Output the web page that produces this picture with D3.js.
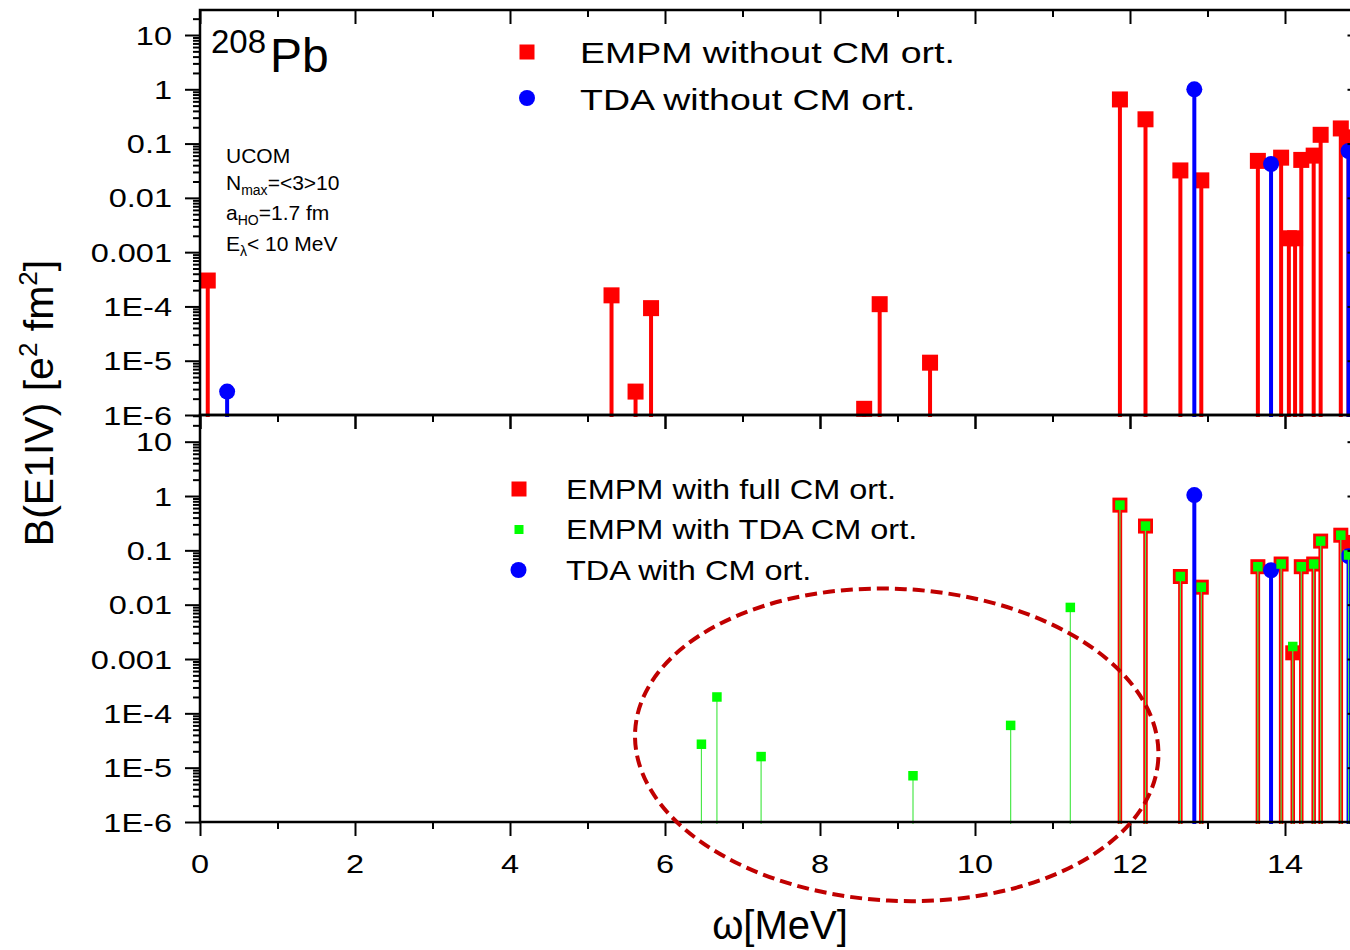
<!DOCTYPE html>
<html><head><meta charset="utf-8">
<script src="https://cdn.jsdelivr.net/npm/d3@7"></script>
<style>body{margin:0;background:#fff} text{font-family:Arial,"Liberation Sans",sans-serif;fill:#000}</style>
</head><body><svg id="c" width="1350" height="950"></svg>
<script>
// ---- data (omega in MeV, B(E1IV) in e^2 fm^2) ----
const topEmpmOmega = [0.10, 5.31, 5.62, 5.82, 8.57, 8.77, 9.42, 11.87, 12.20, 12.65, 12.92, 13.65, 13.95, 14.05, 14.13, 14.21, 14.37, 14.46, 14.72, 14.82];
const topEmpmB     = [3.0e-4, 1.6e-4, 2.7e-6, 9.3e-5, 1.3e-6, 1.1e-4, 9.2e-6, 0.65, 0.28, 0.032, 0.021, 0.048, 0.055, 0.0018, 0.0018, 0.050, 0.060, 0.145, 0.19, 0.13];
const topTdaOmega  = [0.35, 12.83, 13.82, 14.82];
const topTdaB      = [2.7e-6, 1.0, 0.042, 0.073];

const botFullOmega = [11.87, 12.20, 12.65, 12.92, 13.65, 13.95, 14.10, 14.21, 14.37, 14.46, 14.72, 14.84];
const botFullB     = [0.68, 0.28, 0.033, 0.021, 0.050, 0.056, 0.0013, 0.050, 0.056, 0.148, 0.19, 0.14];
const botTdaCmOmega = [6.47, 6.67, 7.24, 9.20, 10.46, 11.23, 11.87, 12.20, 12.65, 12.92, 13.65, 13.95, 14.10, 14.21, 14.37, 14.46, 14.72, 14.82];
const botTdaCmB     = [2.7e-5, 2.0e-4, 1.6e-5, 7.1e-6, 6.0e-5, 0.0089, 0.68, 0.28, 0.033, 0.021, 0.050, 0.056, 0.0017, 0.050, 0.056, 0.148, 0.19, 0.082];
const botTdaOmega  = [12.83, 13.82, 14.82];
const botTdaB      = [1.04, 0.043, 0.078];

const yTickValues = [1e-6, 1e-5, 1e-4, 1e-3, 1e-2, 1e-1, 1, 10];
const yTickLabels = ["1E-6", "1E-5", "1E-4", "0.001", "0.01", "0.1", "1", "10"];
const xTickValues = [0, 2, 4, 6, 8, 10, 12, 14];
const xTickLabels = ["0", "2", "4", "6", "8", "10", "12", "14"];
const xMinorValues = [1, 3, 5, 7, 9, 11, 13, 15];

// ---- layout ----
const svg = d3.select('#c');
const x = d3.scaleLinear().domain([0, 15]).range([200, 1362.5]);
const yTop = d3.scaleLog().domain([1e-6, 28.88]).range([415, 10]);
const yBot = d3.scaleLog().domain([1e-6, 30.98]).range([822, 415]);

function minorVals(scale) {
  const out = [];
  const mx = scale.domain()[1];
  for (let d = -6; d <= 1; d++) for (let k = 2; k <= 9; k++) { const v = k * Math.pow(10, d); if (v <= mx) out.push(v); }
  return out;
}
function stext(g, px, py, str, size, sx, anchor) {
  return g.append('text').attr('transform', `translate(${px},${py}) scale(${sx},1)`)
    .attr('font-size', size).attr('text-anchor', anchor || 'start').text(str);
}

const RED = '#ff0000', BLUE = '#0000ff', GREEN = '#00ff00';

function stems(g, y, om, b, color, w) {
  const base = y.range()[0] + 2;
  g.selectAll(null).data(om.map((o, i) => [o, b[i]])).enter().append('line')
    .attr('x1', d => x(d[0])).attr('x2', d => x(d[0]))
    .attr('y1', base).attr('y2', d => y(d[1]))
    .attr('stroke', color).attr('stroke-width', w);
}
function squares(g, y, om, b, color, s) {
  g.selectAll(null).data(om.map((o, i) => [o, b[i]])).enter().append('rect')
    .attr('x', d => x(d[0]) - s / 2).attr('y', d => y(d[1]) - s / 2)
    .attr('width', s).attr('height', s).attr('fill', color);
}
function circles(g, y, om, b, color, r) {
  g.selectAll(null).data(om.map((o, i) => [o, b[i]])).enter().append('circle')
    .attr('cx', d => x(d[0])).attr('cy', d => y(d[1])).attr('r', r).attr('fill', color);
}

// ---- top panel data ----
const gTop = svg.append('g');
stems(gTop, yTop, topEmpmOmega, topEmpmB, RED, 4);
squares(gTop, yTop, topEmpmOmega, topEmpmB, RED, 16);
stems(gTop, yTop, topTdaOmega, topTdaB, BLUE, 4);
circles(gTop, yTop, topTdaOmega, topTdaB, BLUE, 8);

// ---- bottom panel data ----
const gBot = svg.append('g');
stems(gBot, yBot, botFullOmega, botFullB, RED, 4.5);
squares(gBot, yBot, botFullOmega, botFullB, RED, 15);
stems(gBot, yBot, botTdaOmega, botTdaB, BLUE, 4);
circles(gBot, yBot, botTdaOmega, botTdaB, BLUE, 8);
stems(gBot, yBot, botTdaCmOmega, botTdaCmB, '#4be84b', 1.2);
squares(gBot, yBot, botTdaCmOmega, botTdaCmB, GREEN, 9.5);

// ---- axes ----
function drawAxes(y, showXLabels) {
  const g = svg.append('g');
  const [yb, yt] = y.range();
  const xl = x.range()[0], xr = x.range()[1];
  g.append('g').attr('transform', `translate(${xl},0)`)
    .call(d3.axisLeft(y).tickValues(yTickValues).tickSize(15).tickFormat(''));
  g.append('g').attr('transform', `translate(${xl},0)`)
    .call(d3.axisLeft(y).tickValues(minorVals(y)).tickSize(7).tickFormat(''));
  g.append('g').attr('transform', `translate(${xr},0)`)
    .call(d3.axisRight(y).tickValues(yTickValues).tickSizeInner(-15).tickSizeOuter(0).tickFormat(''));
  g.append('g').attr('transform', `translate(${xr},0)`)
    .call(d3.axisRight(y).tickValues(minorVals(y)).tickSizeInner(-7).tickSizeOuter(0).tickFormat(''));
  g.append('g').attr('transform', `translate(0,${yb})`)
    .call(d3.axisBottom(x).tickValues(xTickValues).tickSize(14).tickFormat(''));
  g.append('g').attr('transform', `translate(0,${yb})`)
    .call(d3.axisBottom(x).tickValues(xMinorValues).tickSize(7).tickFormat(''));
  g.append('g').attr('transform', `translate(0,${yt})`)
    .call(d3.axisBottom(x).tickValues(xTickValues).tickSizeInner(14).tickSizeOuter(0).tickFormat(''));
  g.append('g').attr('transform', `translate(0,${yt})`)
    .call(d3.axisBottom(x).tickValues(xMinorValues).tickSizeInner(7).tickSizeOuter(0).tickFormat(''));
  g.selectAll('path.domain').remove();
  g.selectAll('line').attr('stroke', '#000').attr('stroke-width', 2);
  g.append('rect').attr('x', xl).attr('y', yt).attr('width', xr - xl).attr('height', yb - yt)
    .attr('fill', 'none').attr('stroke', '#000').attr('stroke-width', 2.5);
  yTickValues.forEach((v, i) => {
    stext(g, 172, y(v) + 9.5, yTickLabels[i], 26, 1.25, 'end');
  });
  if (showXLabels) {
    xTickValues.forEach((v, i) => {
      stext(g, x(v), 873, xTickLabels[i], 26, 1.25, 'middle');
    });
  }
}
drawAxes(yTop, false);
drawAxes(yBot, true);

// ---- titles ----
svg.append('text').attr('x', 780).attr('y', 939).attr('font-size', 40).attr('text-anchor', 'middle').text('ω[MeV]');
const yt = svg.append('text').attr('transform', 'translate(53,403) rotate(-90)').attr('font-size', 41).attr('text-anchor', 'middle');
yt.append('tspan').text('B(E1IV) [e');
yt.append('tspan').attr('font-size', 26).attr('dy', -16).text('2');
yt.append('tspan').attr('dy', 16).text(' fm');
yt.append('tspan').attr('font-size', 26).attr('dy', -16).text('2');
yt.append('tspan').attr('dy', 16).text(']');

// ---- annotations ----
svg.append('text').attr('x', 211).attr('y', 52.5).attr('font-size', 33).text('208');
svg.append('text').attr('x', 270).attr('y', 71.5).attr('font-size', 48).text('Pb');

const ann = svg.append('g');
ann.append('text').attr('x', 226).attr('y', 163).attr('font-size', 21).text('UCOM');
const t2 = ann.append('text').attr('x', 226).attr('y', 190).attr('font-size', 21);
t2.append('tspan').text('N'); t2.append('tspan').attr('font-size', 14).attr('dy', 5).text('max'); t2.append('tspan').attr('dy', -5).text('=<3>10');
const t3 = ann.append('text').attr('x', 226).attr('y', 220).attr('font-size', 21);
t3.append('tspan').text('a'); t3.append('tspan').attr('font-size', 14).attr('dy', 5).text('HO'); t3.append('tspan').attr('dy', -5).text('=1.7 fm');
const t4 = ann.append('text').attr('x', 226).attr('y', 251).attr('font-size', 21);
t4.append('tspan').text('E'); t4.append('tspan').attr('font-size', 14).attr('dy', 5).text('λ'); t4.append('tspan').attr('dy', -5).text('< 10 MeV');

// ---- legends ----
const lg = svg.append('g');
lg.append('rect').attr('x', 527 - 7.5).attr('y', 52 - 7.5).attr('width', 15).attr('height', 15).attr('fill', RED);
stext(lg, 580, 63, 'EMPM without CM ort.', 30, 1.25);
lg.append('circle').attr('cx', 527).attr('cy', 98).attr('r', 8).attr('fill', BLUE);
stext(lg, 580, 109.5, 'TDA without CM ort.', 30, 1.25);

lg.append('rect').attr('x', 519 - 7.5).attr('y', 489 - 7.5).attr('width', 15).attr('height', 15).attr('fill', RED);
stext(lg, 566, 499, 'EMPM with full CM ort.', 28, 1.16);
lg.append('rect').attr('x', 519 - 4.5).attr('y', 529.5 - 4.5).attr('width', 9).attr('height', 9).attr('fill', GREEN);
stext(lg, 566, 538.5, 'EMPM with TDA CM ort.', 28, 1.16);
lg.append('circle').attr('cx', 518.5).attr('cy', 570).attr('r', 8).attr('fill', BLUE);
stext(lg, 566, 580, 'TDA with CM ort.', 28, 1.16);

// ---- dashed ellipse annotation (data coordinates) ----
const ellCx = 8.99, ellCy = Math.pow(10, -4.58), ellRx = 3.38, ellRyDec = 2.87, ellRot = 3;
const ecx = x(ellCx), ecy = yBot(ellCy);
svg.append('ellipse')
  .attr('cx', ecx).attr('cy', ecy)
  .attr('rx', x(ellCx + ellRx) - ecx)
  .attr('ry', ecy - yBot(ellCy * Math.pow(10, ellRyDec)))
  .attr('transform', `rotate(${ellRot},${ecx},${ecy})`)
  .attr('fill', 'none').attr('stroke', '#c00000').attr('stroke-width', 4).attr('stroke-dasharray', '12,6');
</script></body></html>
